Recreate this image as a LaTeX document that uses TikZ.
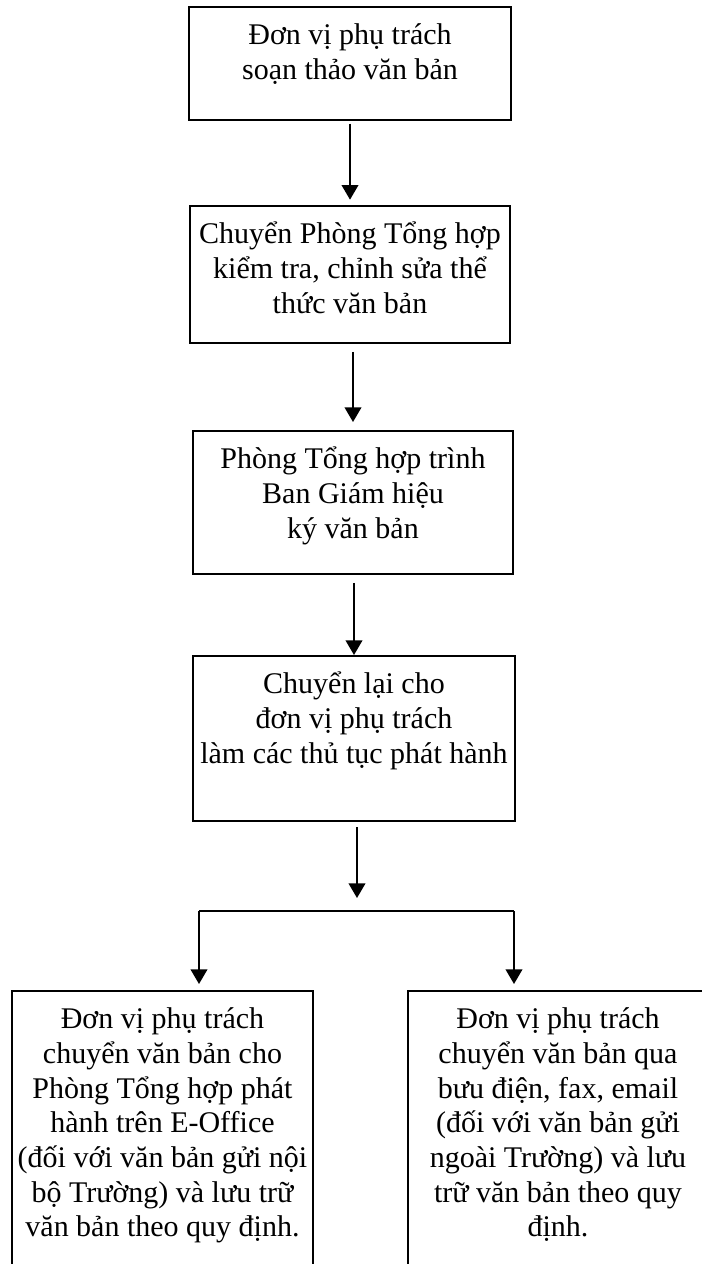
\documentclass[tikz,border=0pt]{standalone}
\usepackage{fontspec}
\setmainfont{Liberation Serif}
\usetikzlibrary{arrows.meta}
\tikzset{
  stepbox/.style 2 args={draw, line width=1.4pt, inner sep=0pt, anchor=north,
    font=\fontsize{22.5pt}{26pt}\selectfont,
    execute at begin node={\begin{minipage}[c][#2][t]{#1}\centering\rule{0pt}{28.5pt}},
    execute at end node={\end{minipage}}},
  flow/.style={line width=1.4pt, -{Triangle[width=12.5pt,length=11pt]}},
}
\begin{document}
\begin{tikzpicture}[x=0.75pt,y=-0.75pt]
\useasboundingbox (0,0) rectangle (702,1264);
\node[stepbox={241.5pt}{84.75pt}] (soanthao) at (350,6) {Đơn vị phụ trách\\soạn thảo văn bản};
\node[stepbox={240pt}{102.75pt}] (kiemtra) at (350,205) {Chuyển Phòng Tổng hợp\\kiểm tra, chỉnh sửa thể\\thức văn bản};
\node[stepbox={240pt}{107.25pt}] (trinhky) at (353,430) {Phòng Tổng hợp trình\\Ban Giám hiệu\\ký văn bản};
\node[stepbox={241.5pt}{123.75pt}] (phathanh) at (354,655) {Chuyển lại cho\\đơn vị phụ trách\\làm các thủ tục phát hành};
\node[stepbox={225.75pt}{217.5pt}] (noibo) at (162.5,990) {Đơn vị phụ trách\\chuyển văn bản cho\\Phòng Tổng hợp phát\\hành trên E-Office\\(đối với văn bản gửi nội\\bộ Trường) và lưu trữ\\văn bản theo quy định.};
\node[stepbox={225pt}{217.5pt}] (ngoai) at (558,990) {Đơn vị phụ trách\\chuyển văn bản qua\\bưu điện, fax, email\\(đối với văn bản gửi\\ngoài Trường) và lưu\\trữ văn bản theo quy\\định.};
\draw[flow, shorten <=2pt, shorten >=4pt] (soanthao.south) -- (soanthao.south |- kiemtra.north);
\draw[flow, shorten <=6pt, shorten >=6pt] (trinhky.north |- kiemtra.south) -- (trinhky.north);
\draw[flow, shorten <=6pt] (phathanh.north |- trinhky.south) -- (phathanh.north);
\coordinate (forkin) at (357,898);
\coordinate (forkL) at (199,911);
\coordinate (forkR) at (514,911);
\draw[flow, shorten <=4pt] (phathanh.south -| forkin) -- (forkin);
\draw[line width=1.4pt] (forkL) -- (forkR);
\draw[flow, shorten >=4.5pt] (forkL) -- (forkL |- noibo.north);
\draw[flow, shorten >=4.5pt] (forkR) -- (forkR |- ngoai.north);
\end{tikzpicture}
\end{document}
